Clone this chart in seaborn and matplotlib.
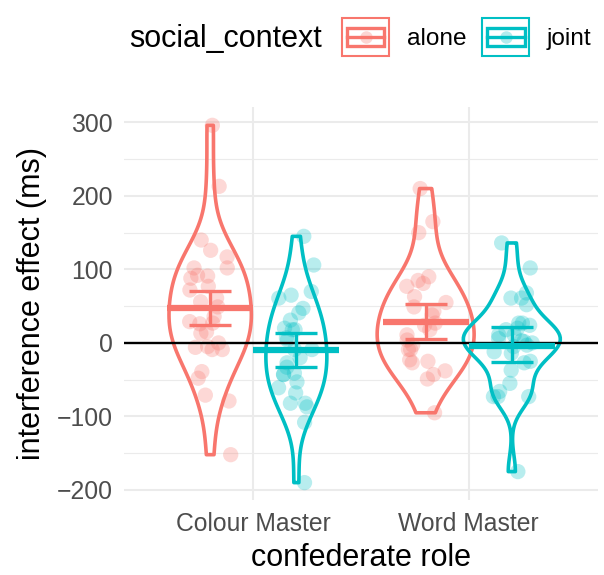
"""
interference effect by confederate role and social context:
violins + jittered points + mean and CI bars, ggplot-like look
"""
import numpy as np
import pandas as pd
import matplotlib
matplotlib.use("Agg")
import matplotlib.pyplot as plt
import seaborn as sns
from matplotlib.patches import Rectangle
from matplotlib.lines import Line2D
from matplotlib.legend_handler import HandlerBase

# values
ROLES = ["Colour Master", "Word Master"]
CONTEXTS = ["alone", "joint"]

colour_alone = [296, 213, 140, 126, 117, 102, 102, 92, 88, 91, 72, 77, 61, 56, 49,
                36, 29, 27, 26, 15, 13, 0, -5, -6, -9, -9, -39, -48, -71, -79, -152]
colour_joint = [145, 106, 70, 65, 61, 47, 41, 31, 20, 18, 18, 7, 4, -9, -9, -20,
                -27, -33, -41, -43, -43, -53, -61, -68, -82, -82, -87, -108, -190]
word_alone = [210, 165, 150, 90, 85, 81, 77, 63, 55, 49, 43, 38, 27, 24, 18, 11,
              4, -3, -9, -9, -23, -25, -27, -38, -43, -49, -95]
word_joint = [136, 102, 68, 61, 61, 52, 27, 27, 24, 20, 18, 11, 11, 6, 3, 2, 0,
              -3, -5, -12, -14, -25, -27, -37, -55, -66, -73, -73, -73, -175]

# mean and confidence interval per (role, context)
mean_effect = {"Colour Master": [47, -10], "Word Master": [29, -4]}
ci_low = {"Colour Master": [24, -33], "Word Master": [5, -26]}
ci_high = {"Colour Master": [70, 14], "Word Master": [53, 22]}

PALETTE = {"alone": "#F8766D", "joint": "#00BFC4"}
GREY_TXT = "#4D4D4D"


def nrd0(kde):
    """R's default bandwidth (bw.nrd0) expressed as a scipy kde factor"""
    x = kde.dataset[0]
    sd = np.std(x, ddof=1)
    iqr = np.subtract(*np.percentile(x, [75, 25]))
    bw = 0.9 * min(sd, iqr / 1.34) * len(x) ** -0.2
    return bw / sd


class KeyHandler(HandlerBase):
    """legend key: violin box + crossbar + faint point"""
    def create_artists(self, legend, orig_handle, xdescent, ydescent,  # pylint: disable=too-many-arguments
                       width, height, fontsize, trans):
        c = orig_handle.get_color()
        x0, y0 = -xdescent, -ydescent
        ix, iy = width * 0.1, height * 0.25
        outer = Rectangle((x0, y0), width, height, fill=False, ec=c, lw=1.5,
                          transform=trans)
        inner = Rectangle((x0 + ix, y0 + iy), width - 2 * ix, height - 2 * iy,
                          fill=False, ec=c, lw=2.4, transform=trans)
        mid = Line2D([x0 + ix, x0 + width - ix], [y0 + height / 2] * 2, color=c,
                     lw=2.4, transform=trans)
        dot = Line2D([x0 + width / 2], [y0 + height / 2], marker="o", ms=9,
                     color=c, alpha=0.3, ls="none", mew=0, transform=trans)
        return [dot, outer, inner, mid]


rows = []
for role, ctx, vals in [("Colour Master", "alone", colour_alone),
                        ("Colour Master", "joint", colour_joint),
                        ("Word Master", "alone", word_alone),
                        ("Word Master", "joint", word_joint)]:
    for v in vals:
        rows.append({"confederate role": role, "social_context": ctx,
                     "interference effect (ms)": v})
df = pd.DataFrame(rows)

plt.rcParams["font.family"] = ["Liberation Sans", "DejaVu Sans"]
fig = plt.figure(figsize=(6.04, 5.75), dpi=100)
ax = fig.add_axes([124 / 604, 0.1296, 474 / 604, 0.6835])

np.random.seed(3)
sns.stripplot(data=df, x="confederate role", y="interference effect (ms)",
              hue="social_context", order=ROLES, hue_order=CONTEXTS,
              palette=PALETTE, dodge=True, jitter=0.2, alpha=0.28, size=11,
              linewidth=0, legend=False, ax=ax, zorder=1)
sns.violinplot(data=df, x="confederate role", y="interference effect (ms)",
               hue="social_context", order=ROLES, hue_order=CONTEXTS,
               palette=PALETTE, dodge=True, width=0.8, gap=-0.125, cut=0,
               inner=None, fill=False, linewidth=2.6, bw_method=nrd0,
               bw_adjust=1.2, legend=False, ax=ax, zorder=2)

ax.axhline(0, color="black", lw=1.7, zorder=3)

# mean bar + CI error bar, dodged like ggplot (width 0.8)
for i, role in enumerate(ROLES):
    for j, ctx in enumerate(CONTEXTS):
        xpos = i + (j - 0.5) * 0.4
        m = mean_effect[role][j]
        ax.hlines(m, xpos - 0.2, xpos + 0.2, color=PALETTE[ctx], lw=4.5,
                  zorder=4)
        ax.errorbar(xpos, m, yerr=[[m - ci_low[role][j]], [ci_high[role][j] - m]],
                    fmt="none", ecolor=PALETTE[ctx], elinewidth=2.4,
                    capsize=15, capthick=2.4, zorder=4)

# ggplot expansion of the axes
y_all = df["interference effect (ms)"]
pad = 0.05 * (y_all.max() - y_all.min())
ax.set_ylim(y_all.min() - pad, y_all.max() + pad)
ax.set_xlim(-0.6, 1.6)
ax.set_yticks(np.arange(-200, 301, 100))
ax.set_yticks(np.arange(-150, 300, 100), minor=True)
ax.set_yticklabels([f"{t}".replace("-", "\u2212") for t in range(-200, 301, 100)])

ax.set_axisbelow(True)
ax.grid(True, which="major", color="#EBEBEB", lw=1.5)
ax.grid(True, which="minor", axis="y", color="#EBEBEB", lw=0.8)
for s in ax.spines.values():
    s.set_visible(False)
ax.tick_params(axis="both", which="both", length=0, labelsize=17.8,
               labelcolor=GREY_TXT)
ax.tick_params(axis="y", pad=8)
ax.tick_params(axis="x", pad=8)
ax.set_xlabel("confederate role", fontsize=22, labelpad=5)
ax.set_ylabel("interference effect (ms)", fontsize=22, labelpad=7)

# legend on top, title on the left
fig.text(129 / 604, 1 - 39 / 575, "social_context", fontsize=22, va="center",
         ha="left")
handles = [Line2D([], [], color=PALETTE[c]) for c in CONTEXTS]
fig.legend(handles, CONTEXTS, handler_map={Line2D: KeyHandler()}, ncol=2,
           loc="center left", bbox_to_anchor=(342 / 604, 1 - 37 / 575),
           frameon=False, fontsize=17.6, handlelength=1.93, handleheight=1.97,
           handletextpad=0.72, columnspacing=0.65, borderpad=0, borderaxespad=0)

fig.savefig("out.png", dpi=100)
